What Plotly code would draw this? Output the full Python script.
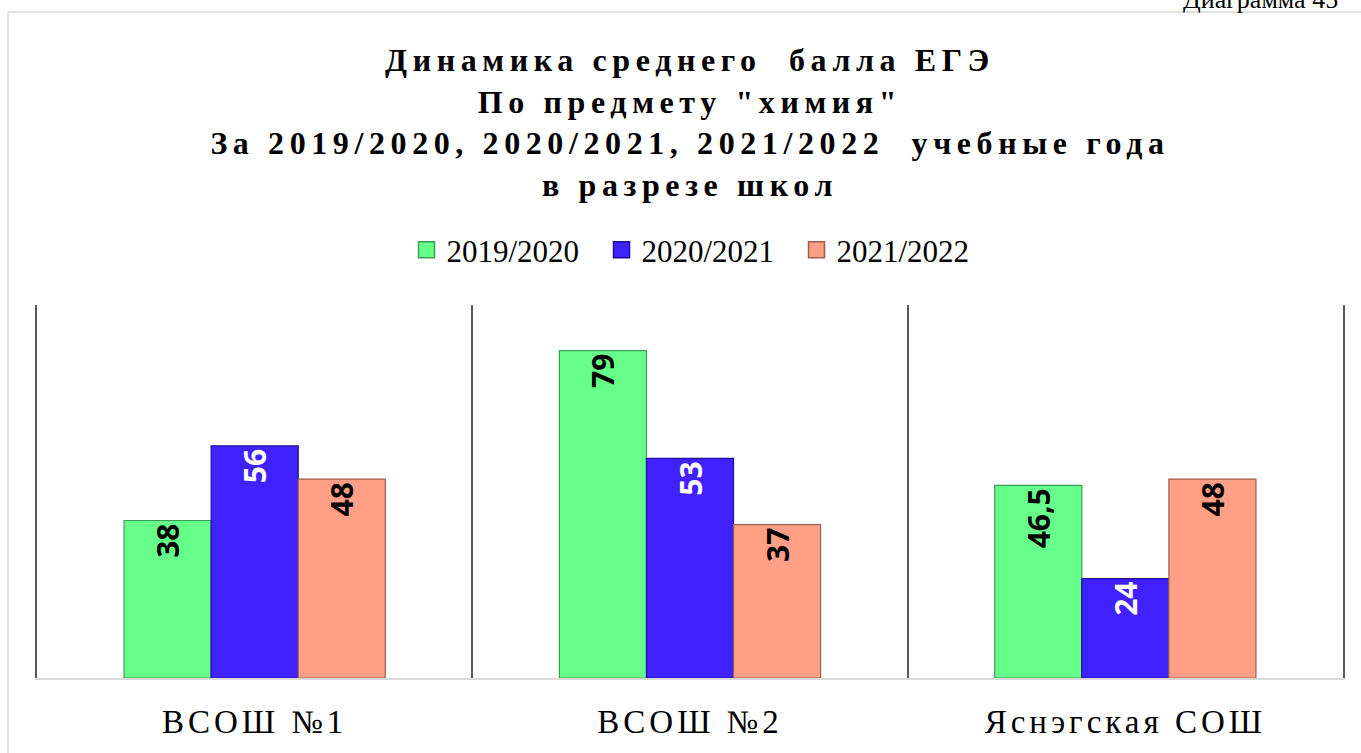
import plotly.graph_objects as go

schools = ["ВСОШ №1", "ВСОШ №2", "Яснэгская СОШ"]
years = ["2019/2020", "2020/2021", "2021/2022"]
scores_2019 = [38, 79, 46.5]
scores_2020 = [56, 53, 24]
scores_2021 = [48, 37, 48]
series = [scores_2019, scores_2020, scores_2021]

colors = ["#66FF8A", "#3F22FF", "#FF9F85"]
edge_colors = ["#3C9E55", "#1E0E99", "#9E5E4E"]
text_colors = ["black", "white", "black"]

title_lines = [
    "Динамика среднего  балла ЕГЭ",
    "По предмету \"химия\"",
    "За 2019/2020, 2020/2021, 2021/2022  учебные года",
    "в разрезе школ",
]

SERIF = "Liberation Serif, Times New Roman, serif"


def fmt(v):
    return (f"{v:g}").replace(".", ",")


fig = go.Figure()
for name, vals, c, ec, tc in zip(years, series, colors, edge_colors, text_colors):
    fig.add_trace(go.Bar(
        x=schools, y=vals, name=name, showlegend=False,
        marker=dict(color=c, line=dict(color=ec, width=1.2)),
        text=[fmt(v) for v in vals],
        textposition="inside", insidetextanchor="end", textangle=-90,
        textfont=dict(family="Open Sans", size=30, color=tc, weight="bold"),
        constraintext="none",
    ))
# legend entries with square swatches
for name, c, ec in zip(years, colors, edge_colors):
    fig.add_trace(go.Scatter(
        x=[None], y=[None], mode="markers", name=name,
        marker=dict(symbol="square", size=17, color=c, line=dict(color=ec, width=1.5)),
    ))

W, H = 1361, 753
L, R, T, B = 37, 18, 305, 75
pw, ph = W - L - R, H - T - B


def px(xp):
    return (xp - L) / pw


def py(yp):
    return (H - B - yp) / ph


fig.update_layout(
    width=W, height=H,
    margin=dict(l=L, r=R, t=T, b=B),
    paper_bgcolor="white", plot_bgcolor="white",
    barmode="group", bargap=0.4, bargroupgap=0,
    title=dict(
        text="<br>".join(title_lines),
        x=px(690), xanchor="center", xref="paper",
        y=1 - 71 / H, yanchor="top", yref="container",
        font=dict(family=SERIF, size=32, color="black", weight="bold"),
    ),
    legend=dict(
        orientation="h", x=px(699), xanchor="center", y=py(250), yanchor="middle",
        font=dict(family=SERIF, size=31, color="black"),
        traceorder="normal", itemwidth=30, entrywidth=150,
    ),
    xaxis=dict(
        tickson="boundaries", showgrid=True, gridcolor="#595959", gridwidth=1.5,
        showline=True, linecolor="#D9D9D9", linewidth=1.5,
        ticks="", range=[-0.5, 2.5], ticklabelstandoff=14,
        tickfont=dict(family=SERIF, size=33, color="black"),
    ),
    yaxis=dict(
        range=[0, 90], showgrid=False, zeroline=False, showticklabels=False,
        showline=True, linecolor="#595959", linewidth=1.5, mirror=True, ticks="",
    ),
    showlegend=True,
)

# outer chart frame
fig.add_shape(type="line", xref="paper", yref="paper",
              x0=px(8), x1=px(8), y0=py(H + 5), y1=py(12),
              line=dict(color="#D9D9D9", width=1.5))
fig.add_shape(type="line", xref="paper", yref="paper",
              x0=px(8), x1=px(W + 5), y0=py(12), y1=py(12),
              line=dict(color="#D9D9D9", width=1.5))

fig.add_annotation(text="Диаграмма 45", xref="paper", yref="paper",
                   x=px(1340), xanchor="right", y=py(16), yanchor="bottom",
                   showarrow=False,
                   font=dict(family=SERIF, size=26, color="black"))

post = """
document.body.style.margin = '0';
var gd = document.getElementById('{plot_id}');
function ls(){
  gd.querySelectorAll('.gtitle').forEach(function(e){ e.style.letterSpacing = '5.6px'; });
  gd.querySelectorAll('.xtick text').forEach(function(e){ e.style.letterSpacing = '4px'; });
}
ls();
gd.on('plotly_afterplot', ls);
"""

fig.write_html("out.html", post_script=post, config={"displayModeBar": False})
